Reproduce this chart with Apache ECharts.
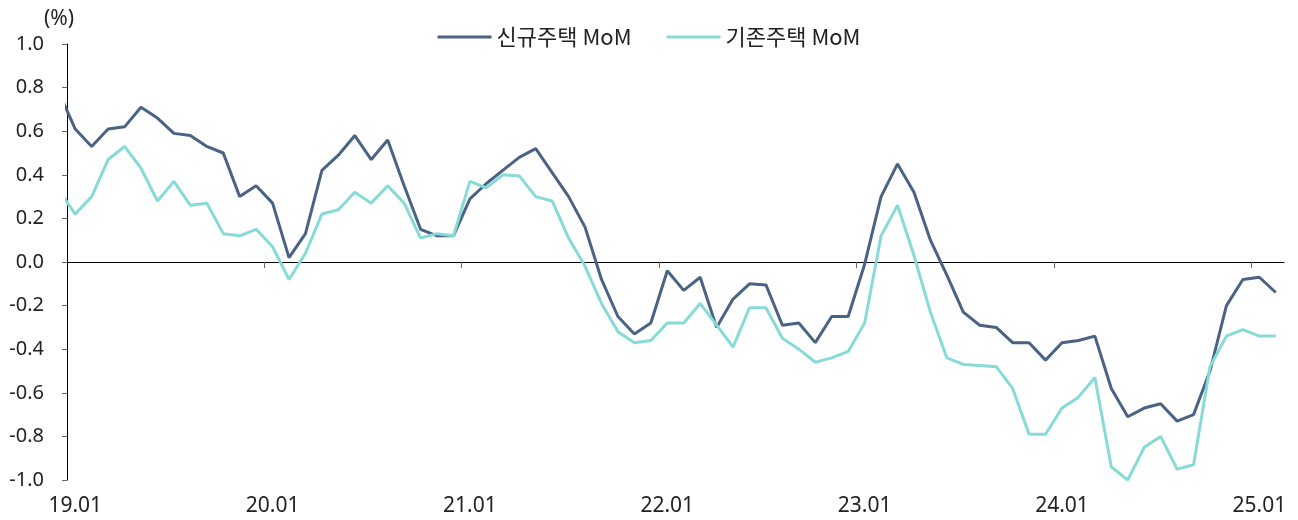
<!DOCTYPE html>
<html>
<head>
<meta charset="utf-8">
<script src="https://cdn.jsdelivr.net/npm/echarts@6/dist/echarts.min.js"></script>
<style>
  html, body { margin: 0; padding: 0; background: #fff; }
  #chart { width: 1298px; height: 520px; }
</style>
</head>
<body>
<div id="chart"></div>
<script>
  // 월별 카테고리 19.01 ~ 25.02
  const months = [];
  for (let y = 19; y <= 25; y++) {
    for (let m = 1; m <= 12; m++) {
      if (y === 25 && m > 2) break;
      months.push(y + '.' + (m < 10 ? '0' + m : m));
    }
  }

  // 18.12 값 (y축 왼쪽, 잘려서 보이지 않음)
  const newPrev = 0.78;
  const oldPrev = 0.33;

  // 신규주택 MoM (%)
  const newMoM = [
    0.61, 0.53, 0.61, 0.62, 0.71, 0.66, 0.59, 0.58, 0.53, 0.50, 0.30, 0.35,
    0.27, 0.02, 0.13, 0.42, 0.49, 0.58, 0.47, 0.56, 0.35, 0.15, 0.12, 0.12,
    0.29, 0.36, 0.42, 0.48, 0.52, 0.41, 0.30, 0.16, -0.08, -0.25, -0.33, -0.28,
    -0.04, -0.13, -0.07, -0.30, -0.17, -0.10, -0.105, -0.29, -0.28, -0.37, -0.25, -0.25,
    -0.01, 0.30, 0.45, 0.32, 0.10, -0.06, -0.23, -0.29, -0.30, -0.37, -0.37, -0.45,
    -0.37, -0.36, -0.34, -0.58, -0.71, -0.67, -0.65, -0.73, -0.70, -0.50, -0.20, -0.08,
    -0.07, -0.14
  ];

  // 기존주택 MoM (%)
  const oldMoM = [
    0.22, 0.30, 0.47, 0.53, 0.43, 0.28, 0.37, 0.26, 0.27, 0.13, 0.12, 0.15,
    0.07, -0.08, 0.04, 0.22, 0.24, 0.32, 0.27, 0.35, 0.27, 0.11, 0.13, 0.12,
    0.37, 0.34, 0.40, 0.395, 0.30, 0.28, 0.11, -0.02, -0.19, -0.32, -0.37, -0.36,
    -0.28, -0.28, -0.19, -0.29, -0.39, -0.21, -0.21, -0.35, -0.40, -0.46, -0.44, -0.41,
    -0.28, 0.12, 0.26, 0.03, -0.23, -0.44, -0.47, -0.475, -0.48, -0.58, -0.79, -0.79,
    -0.67, -0.62, -0.53, -0.94, -1.00, -0.85, -0.80, -0.95, -0.93, -0.48, -0.34, -0.31,
    -0.34, -0.34
  ];

  // x축 눈금 (매년 1월 시작 경계)
  const yearStarts = [12, 24, 36, 48, 60, 72];

  const fontFamily = "'Noto Sans', 'Noto Sans CJK KR', sans-serif";

  function toPoints(prev, list) {
    return [[-0.5, prev]].concat(list.map((v, i) => [i + 0.5, v]));
  }

  const option = {
    animation: false,
    textStyle: { fontFamily: fontFamily },
    title: {
      text: '(%)',
      left: 39,
      top: 4,
      textStyle: { fontSize: 21, fontWeight: 'normal', color: '#222', fontFamily: fontFamily }
    },
    legend: {
      top: 21,
      left: 'center',
      icon: 'rect',
      itemWidth: 54,
      itemHeight: 3,
      itemGap: 35,
      textStyle: { fontSize: 22, color: '#222', fontFamily: "'Noto Sans CJK KR', sans-serif" }
    },
    grid: { left: 67, right: 14, top: 44, bottom: 40 },
    xAxis: [
      {
        type: 'value',
        min: 0,
        max: months.length,
        interval: 12,
        position: 'bottom',
        axisLine: { onZero: true, lineStyle: { color: '#000', width: 1 } },
        axisTick: { show: true, customValues: yearStarts, length: 6, lineStyle: { color: '#666' } },
        axisLabel: { show: false },
        splitLine: { show: false }
      },
      {
        type: 'category',
        data: months,
        position: 'bottom',
        boundaryGap: true,
        axisLine: { show: false, onZero: false },
        axisTick: { show: false },
        axisLabel: { interval: 11, margin: 16, fontSize: 21, color: '#222', fontFamily: fontFamily },
        splitLine: { show: false }
      }
    ],
    yAxis: {
      type: 'value',
      min: -1,
      max: 1,
      interval: 0.2,
      axisLine: { show: true, onZero: false, lineStyle: { color: '#000', width: 1 } },
      axisTick: { show: true, length: 5, lineStyle: { color: '#666' } },
      splitLine: { show: false },
      axisLabel: {
        margin: 23,
        fontSize: 20,
        color: '#222',
        fontFamily: fontFamily,
        formatter: v => (Math.abs(v) < 1e-9 ? '0.0' : v.toFixed(1))
      }
    },
    series: [
      {
        name: '신규주택 MoM',
        type: 'line',
        xAxisIndex: 0,
        symbol: 'none',
        clip: true,
        color: '#4a6385',
        lineStyle: { width: 3, color: '#4a6385' },
        data: toPoints(newPrev, newMoM)
      },
      {
        name: '기존주택 MoM',
        type: 'line',
        xAxisIndex: 0,
        symbol: 'none',
        clip: true,
        color: '#86dbd7',
        lineStyle: { width: 3, color: '#86dbd7' },
        data: toPoints(oldPrev, oldMoM)
      }
    ]
  };

  const chart = echarts.init(document.getElementById('chart'));
  chart.setOption(option);
  window.addEventListener('resize', function () {
    chart.resize();
  });
</script>
</body>
</html>
